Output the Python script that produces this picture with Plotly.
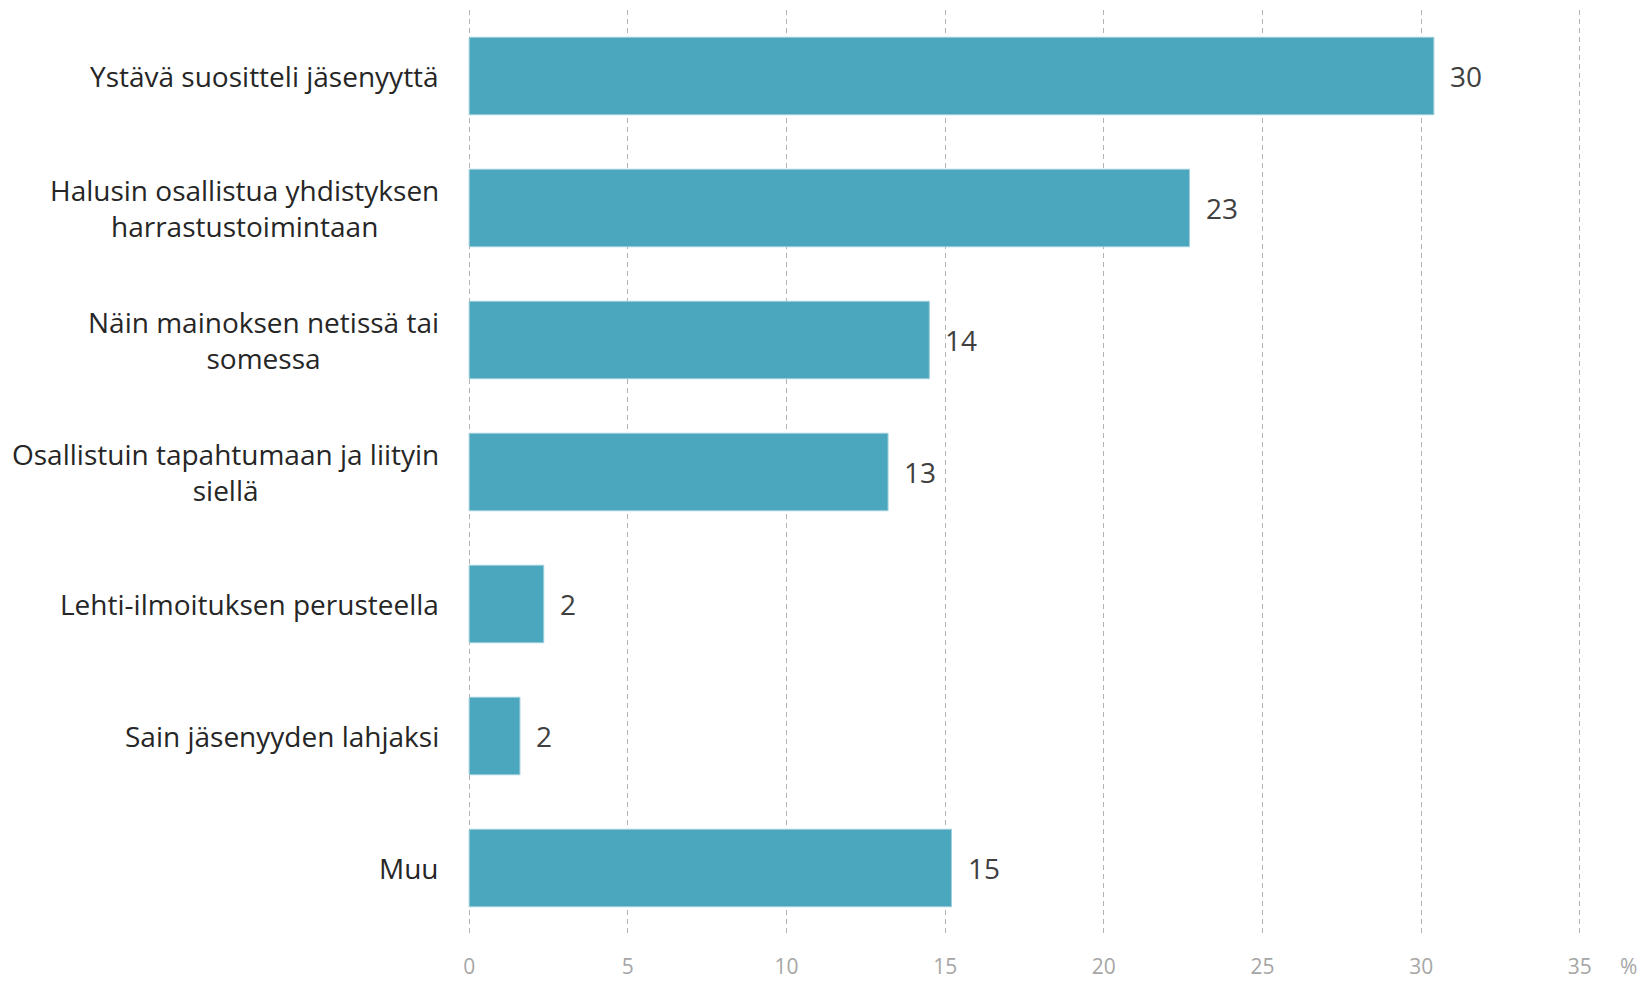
import plotly.graph_objects as go

categories = [
    "Ystävä suositteli jäsenyyttä",
    "Halusin osallistua yhdistyksen<br>harrastustoimintaan",
    "Näin mainoksen netissä tai<br>somessa",
    "Osallistuin tapahtumaan ja liityin<br>siellä",
    "Lehti-ilmoituksen perusteella",
    "Sain jäsenyyden lahjaksi",
    "Muu",
]
values = [30.4, 22.7, 14.5, 13.2, 2.35, 1.6, 15.2]
value_labels = ["30", "23", "14", "13", "2", "2", "15"]
x_ticks = [0, 5, 10, 15, 20, 25, 30, 35]

FONT = "Open Sans"
BAR = "#4BA7BD"

fig = go.Figure()
fig.add_trace(go.Bar(
    y=categories, x=values, orientation="h",
    marker=dict(color=BAR, line=dict(color="#9fd0dc", width=1)),
    hoverinfo="skip",
))

for c, v, t in zip(categories, values, value_labels):
    fig.add_annotation(x=v, y=c, xref="x", yref="y", text=t, showarrow=False,
                       xanchor="left", xshift=14,
                       font=dict(family=FONT, size=28, color="#404040"))
    fig.add_annotation(x=0, y=c, xref="x", yref="y", text=c, showarrow=False,
                       xanchor="right", align="center", xshift=-28,
                       font=dict(family=FONT, size=28, color="#262626"))

fig.add_annotation(x=1.0403, y=0, xref="paper", yref="paper", text="%", showarrow=False,
                   xanchor="center", yanchor="middle", yshift=-32,
                   font=dict(family=FONT, size=21, color="#a6a6a6"))

fig.update_layout(
    width=1642, height=981,
    margin=dict(l=466, r=59, t=10, b=47),
    paper_bgcolor="white", plot_bgcolor="white",
    bargap=0.413, showlegend=False,
    xaxis=dict(range=[-0.1, 35.1], tickvals=x_ticks, showgrid=True, gridcolor="#b3b3b3",
               griddash="5px,4px", gridwidth=1, zeroline=False, showline=False,
               ticks="", tickfont=dict(family=FONT, size=21, color="#a6a6a6"),
               ticklabelstandoff=18, automargin=False),
    yaxis=dict(autorange="reversed", showticklabels=False, showgrid=False,
               zeroline=False, showline=False, ticks="", automargin=False),
)

fig.write_html("out.html", config={"displayModeBar": False},
               post_script="document.body.style.margin='0';")
